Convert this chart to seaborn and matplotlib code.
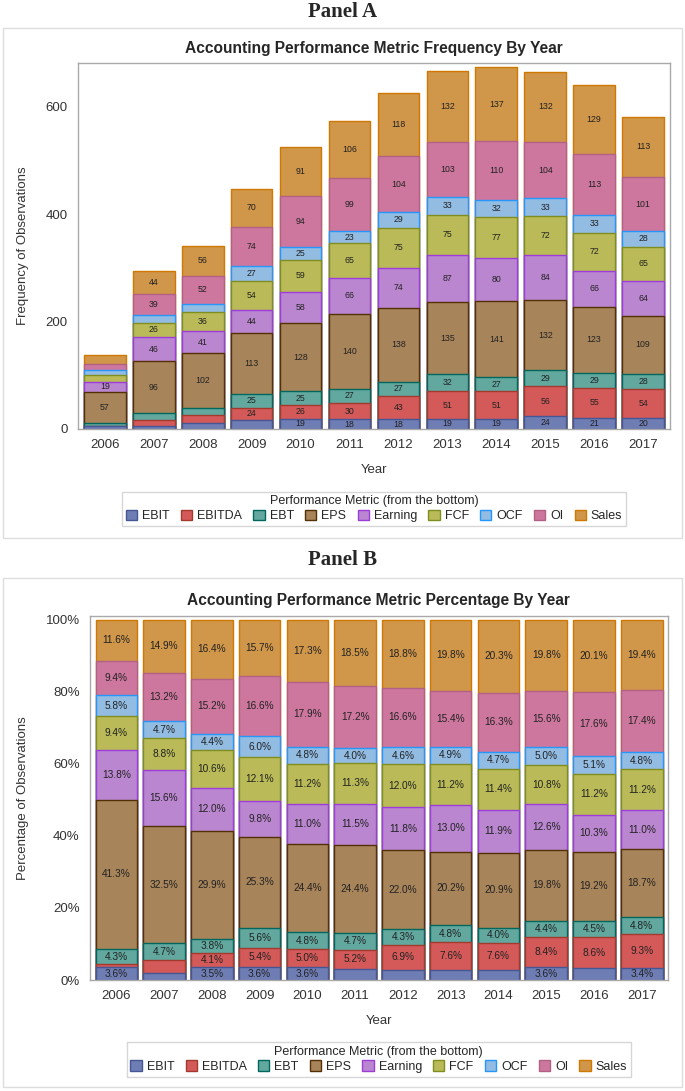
import numpy as np
import pandas as pd
import seaborn as sns
import matplotlib.pyplot as plt
from matplotlib.patches import Patch, Rectangle
from matplotlib.ticker import PercentFormatter

sns.set_style("white")
plt.rcParams['font.family'] = ['Liberation Sans', 'DejaVu Sans']

# counts (and checked against panel B percentages)
years = ['2006', '2007', '2008', '2009', '2010', '2011',
         '2012', '2013', '2014', '2015', '2016', '2017']
metrics = ['EBIT', 'EBITDA', 'EBT', 'EPS', 'Earning', 'FCF', 'OCF', 'OI', 'Sales']
ebit = [5, 6, 12, 16, 19, 18, 18, 19, 19, 24, 21, 20]
ebitda = [1, 10, 14, 24, 26, 30, 43, 51, 51, 56, 55, 54]
ebt = [6, 14, 13, 25, 25, 27, 27, 32, 27, 29, 29, 28]
eps = [57, 96, 102, 113, 128, 140, 138, 135, 141, 132, 123, 109]
earning = [19, 46, 41, 44, 58, 66, 74, 87, 80, 84, 66, 64]
fcf = [13, 26, 36, 54, 59, 65, 75, 75, 77, 72, 72, 65]
ocf = [8, 14, 15, 27, 25, 23, 29, 33, 32, 33, 33, 28]
oi = [13, 39, 52, 74, 94, 99, 104, 103, 110, 104, 113, 101]
sales = [16, 44, 56, 70, 91, 106, 118, 132, 137, 132, 129, 113]

fills = ['#6F7DB5', '#D45A5A', '#62A89F', '#A8845A', '#B986CF',
         '#BABB58', '#93BCE3', '#CD779E', '#D0964A']
edges = ['#445694', '#A23A2E', '#01665E', '#543005', '#9D3CDB',
         '#7F8E1F', '#2597FA', '#B26084', '#D17800']

counts = pd.DataFrame({'EBIT': ebit, 'EBITDA': ebitda, 'EBT': ebt, 'EPS': eps,
                       'Earning': earning, 'FCF': fcf, 'OCF': ocf, 'OI': oi,
                       'Sales': sales}, index=years)
pcts = counts.div(counts.sum(axis=1), axis=0)


def stacked(ax, df, labfmt, minval, fs, width):
    cum = df.cumsum(axis=1)
    # draw cumulative bars from the top down so lower segments sit on top
    for i in range(len(metrics) - 1, -1, -1):
        m = metrics[i]
        sns.barplot(x=years, y=cum[m].values, color=fills[i], saturation=1,
                    edgecolor=edges[i], linewidth=1.0, width=width, ax=ax)
    for j, yr in enumerate(years):
        for m in metrics:
            v = df.loc[yr, m]
            if v >= minval:
                mid = cum.loc[yr, m] - v / 2
                ax.text(j, mid, labfmt(v), ha='center', va='center',
                        fontsize=fs, color='#222222')


def style_axes(ax):
    for s in ax.spines.values():
        s.set_color('#A9A9A9')
        s.set_linewidth(1.0)
    ax.tick_params(axis='both', direction='out', length=4, width=0.8,
                   color='#A9A9A9', labelsize=9.5, labelcolor='#333333')


fig = plt.figure(figsize=(6.85, 10.91), dpi=100)

# panel frames
for (b, h) in [(0.5069, 0.4675), (0.0037, 0.4665)]:
    fig.patches.append(Rectangle((0.0044, b), 0.991, h, transform=fig.transFigure,
                                 fill=False, edgecolor='#DDDDDD', linewidth=1.0))

handles = [Patch(facecolor=fills[i], edgecolor=edges[i], label=metrics[i])
           for i in range(len(metrics))]

# Panel A
axA = fig.add_axes([0.1139, 0.6068, 0.8641, 0.3355])
stacked(axA, counts, lambda v: f"{v:d}", 17, 6.3, 0.85)
axA.set_ylim(0, 682)
axA.set_yticks([0, 200, 400, 600])
axA.set_xlim(-0.55, 11.55)
axA.set_xlabel('Year', fontsize=9.5, color='#333333', labelpad=9)
axA.set_ylabel('Frequency of Observations', fontsize=9.5, color='#333333',
               labelpad=12)
style_axes(axA)
fig.text(0.5, 0.989, 'Panel A', ha='center', va='center', fontsize=15,
         fontweight='bold', family=['Liberation Serif', 'DejaVu Serif'])
fig.text(0.546, 0.956, 'Accounting Performance Metric Frequency By Year',
         ha='center', va='center', fontsize=11.2, fontweight='bold')
legA = fig.legend(handles=handles, loc='center', bbox_to_anchor=(0.546, 0.5335),
                  ncol=9, title='Performance Metric (from the bottom)',
                  fontsize=9, title_fontsize=9, frameon=True, fancybox=False,
                  handlelength=0.9, handleheight=0.9, handletextpad=0.4,
                  columnspacing=0.9, borderpad=0.3, labelspacing=0.2)
legA.get_frame().set_edgecolor('#CCCCCC')

# Panel B
axB = fig.add_axes([0.1314, 0.1017, 0.8438, 0.3337])
stacked(axB, pcts, lambda v: f"{v * 100:.1f}%", 0.034, 7.3, 0.87)
axB.set_ylim(0, 1.01)
axB.set_yticks([0, 0.2, 0.4, 0.6, 0.8, 1.0])
axB.yaxis.set_major_formatter(PercentFormatter(1.0, decimals=0))
axB.set_xlim(-0.55, 11.55)
axB.set_xlabel('Year', fontsize=9.5, color='#333333', labelpad=9)
axB.set_ylabel('Percentage of Observations', fontsize=9.5, color='#333333',
               labelpad=12)
style_axes(axB)
fig.text(0.5, 0.4867, 'Panel B', ha='center', va='center', fontsize=15,
         fontweight='bold', family=['Liberation Serif', 'DejaVu Serif'])
fig.text(0.553, 0.450, 'Accounting Performance Metric Percentage By Year',
         ha='center', va='center', fontsize=11.2, fontweight='bold')
legB = fig.legend(handles=handles, loc='center', bbox_to_anchor=(0.553, 0.0289),
                  ncol=9, title='Performance Metric (from the bottom)',
                  fontsize=9, title_fontsize=9, frameon=True, fancybox=False,
                  handlelength=0.9, handleheight=0.9, handletextpad=0.4,
                  columnspacing=0.9, borderpad=0.3, labelspacing=0.2)
legB.get_frame().set_edgecolor('#CCCCCC')

fig.savefig('out.png', dpi=100)
